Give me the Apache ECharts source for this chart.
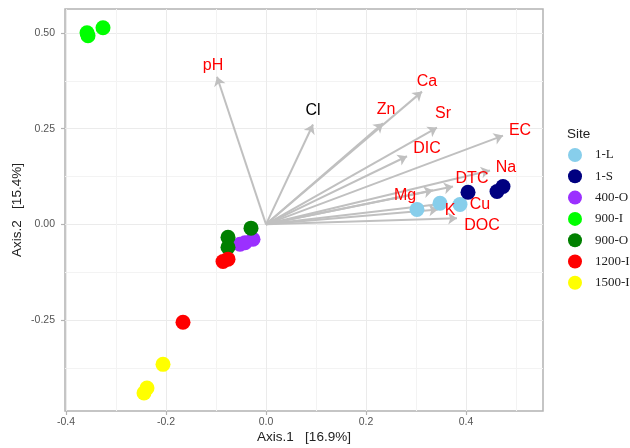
<!DOCTYPE html>
<html>
<head>
<meta charset="utf-8">
<script src="https://cdn.jsdelivr.net/npm/echarts@6/dist/echarts.min.js"></script>
<style>
  html, body { margin: 0; padding: 0; background: #fff; }
  #chart { width: 630px; height: 448px; }
</style>
</head>
<body>
<div id="chart"></div>
<script>
// sites and their colours
const sites = ['1-L', '1-S', '400-O', '900-I', '900-O', '1200-I', '1500-I'];
const siteColors = ['#87ceeb', '#000080', '#9b30ff', '#00ff00', '#008000', '#ff0000', '#ffff00'];

// sample scores [Axis.1, Axis.2] per site
const pts_1L = [[0.302, 0.039], [0.348, 0.055], [0.388, 0.052]];
const pts_1S = [[0.404, 0.084], [0.462, 0.086], [0.474, 0.099]];
const pts_400O = [[-0.026, -0.039], [-0.052, -0.052], [-0.042, -0.048]];
const pts_900I = [[-0.358, 0.501], [-0.356, 0.493], [-0.326, 0.514]];
const pts_900O = [[-0.030, -0.010], [-0.076, -0.034], [-0.076, -0.060]];
const pts_1200I = [[-0.166, -0.256], [-0.086, -0.097], [-0.076, -0.091]];
const pts_1500I = [[-0.206, -0.366], [-0.238, -0.428], [-0.244, -0.441]];
const sitePoints = [pts_1L, pts_1S, pts_400O, pts_900I, pts_900O, pts_1200I, pts_1500I];

// environmental vectors: name, arrow tip, label position
const vecNames = ['pH', 'Cl', 'Zn', 'Ca', 'Sr', 'DIC', 'EC', 'Na', 'DTC', 'Mg', 'K', 'Cu', 'DOC'];
const vecTips = [[-0.098, 0.386], [0.094, 0.261], [0.234, 0.264], [0.312, 0.347], [0.342, 0.253],
  [0.282, 0.178], [0.474, 0.232], [0.448, 0.141], [0.374, 0.099], [0.334, 0.089],
  [0.344, 0.039], [0.362, 0.055], [0.382, 0.016]];
const vecLabels = [[-0.106, 0.415], [0.094, 0.298], [0.240, 0.300], [0.322, 0.373], [0.354, 0.290],
  [0.322, 0.198], [0.508, 0.245], [0.480, 0.149], [0.412, 0.120], [0.278, 0.076],
  [0.368, 0.037], [0.428, 0.052], [0.432, -0.003]];
const vecLabelColors = ['#ff0000', '#000000', '#ff0000', '#ff0000', '#ff0000', '#ff0000', '#ff0000',
  '#ff0000', '#ff0000', '#ff0000', '#ff0000', '#ff0000', '#ff0000'];

// axis ticks
const xMajor = [-0.4, -0.2, 0.0, 0.2, 0.4];
const xMinor = [-0.3, -0.1, 0.1, 0.3, 0.5];
const yMajor = [-0.25, 0.0, 0.25, 0.5];
const yMinor = [-0.375, -0.125, 0.125, 0.375];

const xMin = -0.402, xMax = 0.554;
const yMin = -0.488, yMax = 0.563;

const chart = echarts.init(document.getElementById('chart'));

const series = [];

series.push({
  type: 'lines',
  coordinateSystem: 'cartesian2d',
  xAxisIndex: 0,
  yAxisIndex: 0,
  silent: true,
  z: 2,
  symbol: ['none', 'arrow'],
  symbolSize: 9,
  lineStyle: { color: '#c0c0c0', width: 2, opacity: 1 },
  data: vecTips.map(t => ({ coords: [[0, 0], t] }))
});

sites.forEach((s, i) => {
  series.push({
    name: s,
    type: 'scatter',
    xAxisIndex: 0,
    yAxisIndex: 0,
    symbolSize: 15,
    z: 3,
    itemStyle: { color: siteColors[i], opacity: 1 },
    data: sitePoints[i]
  });
});

// vector names
series.push({
  type: 'scatter',
  xAxisIndex: 0,
  yAxisIndex: 0,
  symbolSize: 0,
  silent: true,
  z: 4,
  itemStyle: { color: 'rgba(0,0,0,0)' },
  label: {
    show: true,
    position: 'inside',
    fontFamily: 'Liberation Sans',
    fontSize: 16,
    textBorderWidth: 0,
    opacity: 1,
    formatter: p => p.data.name
  },
  data: vecLabels.map((p, i) => ({
    name: vecNames[i],
    value: p,
    label: { color: vecLabelColors[i] }
  }))
});

const option = {
  animation: false,
  backgroundColor: '#fff',
  title: {
    text: 'Site',
    left: 562,
    top: 122,
    textStyle: { fontFamily: 'Liberation Sans', fontSize: 13.5, fontWeight: 'normal', color: '#222' }
  },
  legend: {
    data: sites,
    orient: 'vertical',
    left: 563,
    top: 143,
    itemWidth: 28,
    itemHeight: 14,
    itemGap: 7.3,
    icon: 'circle',
    textStyle: { fontFamily: 'Liberation Serif', fontSize: 13, color: '#222', padding: [0, 0, 0, 1] }
  },
  grid: {
    left: 65, right: 87, top: 9, bottom: 37,
    outerBoundsMode: 'none',
    containLabel: false,
    show: true,
    borderColor: '#b3b3b3',
    borderWidth: 1.5,
    backgroundColor: '#fff'
  },
  xAxis: [{
    type: 'value',
    min: xMin, max: xMax,
    name: 'Axis.1   [16.9%]',
    nameLocation: 'middle',
    nameGap: 19,
    nameMoveOverlap: false,
    nameTextStyle: { fontFamily: 'Liberation Sans', fontSize: 13.5, color: '#222' },
    axisLine: { show: false, onZero: false },
    axisTick: { show: true, customValues: xMajor, length: 4, lineStyle: { color: '#b3b3b3', width: 1.2 } },
    axisLabel: { customValues: xMajor, formatter: v => v.toFixed(1), fontFamily: 'Liberation Sans', fontSize: 10.5, color: '#555', margin: 6 },
    splitLine: { show: true, lineStyle: { color: '#ebebeb', width: 1 } }
  }, {
    type: 'value',
    min: xMin, max: xMax,
    position: 'bottom',
    axisLine: { show: false, onZero: false },
    axisTick: { show: false, customValues: xMinor },
    axisLabel: { show: false },
    splitLine: { show: true, lineStyle: { color: '#f3f3f3', width: 1 } }
  }],
  yAxis: [{
    type: 'value',
    min: yMin, max: yMax,
    name: 'Axis.2   [15.4%]',
    nameLocation: 'middle',
    nameGap: 41,
    nameMoveOverlap: false,
    nameTextStyle: { fontFamily: 'Liberation Sans', fontSize: 13.5, color: '#222' },
    axisLine: { show: false, onZero: false },
    axisTick: { show: true, customValues: yMajor, length: 4, lineStyle: { color: '#b3b3b3', width: 1.2 } },
    axisLabel: { customValues: yMajor, formatter: v => v.toFixed(2), fontFamily: 'Liberation Sans', fontSize: 10.5, color: '#555', margin: 10 },
    splitLine: { show: true, lineStyle: { color: '#ebebeb', width: 1 } }
  }, {
    type: 'value',
    min: yMin, max: yMax,
    position: 'left',
    axisLine: { show: false, onZero: false },
    axisTick: { show: false, customValues: yMinor },
    axisLabel: { show: false },
    splitLine: { show: true, lineStyle: { color: '#f3f3f3', width: 1 } }
  }],
  series: series
};

option && chart.setOption(option);
</script>
</body>
</html>
